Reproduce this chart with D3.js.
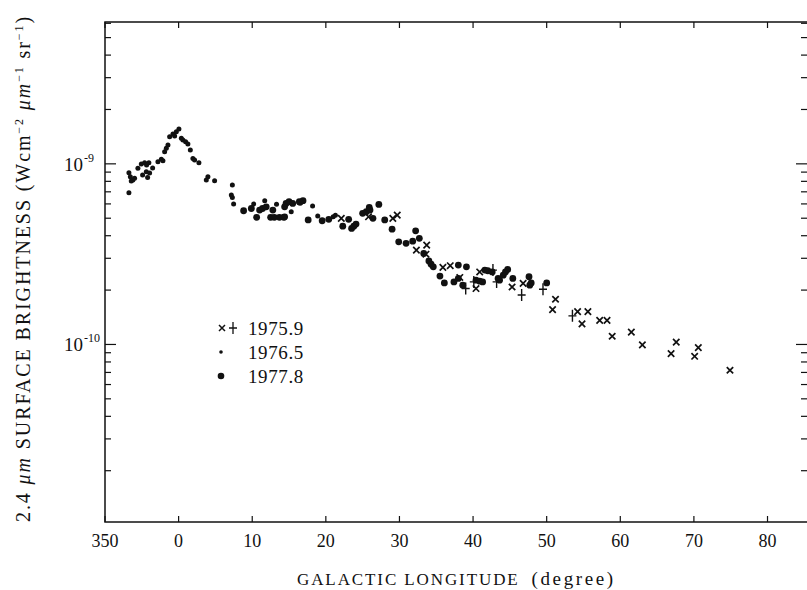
<!DOCTYPE html>
<html>
<head>
<meta charset="utf-8">
<script src="https://cdn.jsdelivr.net/npm/d3@7"></script>
<style>
  body { margin: 0; background: #fff; }
  svg { display: block; }
  text { font-family: "Liberation Serif", "Times New Roman", "DejaVu Serif", serif; fill: #111; }
</style>
</head>
<body>
<svg id="chart" width="807" height="590"></svg>
<script>
// values are [galactic longitude (deg, negative = 350..360), brightness in 1e-10 W cm-2 um-1 sr-1]
const UNIT = 1e-10;

// 1975.9, crosses
const cross1975 = [
  [22.1, 4.99], [25.8, 5.09], [29.1, 4.99], [29.7, 5.20], [32.3, 3.33], [33.7, 3.55],
  [33.6, 3.16], [35.9, 2.67], [36.9, 2.73], [38.2, 2.35], [40.4, 2.04], [40.9, 2.52],
  [45.3, 2.08], [46.8, 2.18], [51.2, 1.78], [50.8, 1.56], [54.2, 1.52], [55.6, 1.52],
  [54.8, 1.30], [57.2, 1.36], [58.2, 1.36], [58.9, 1.11], [61.5, 1.17], [63.0, 0.995],
  [67.6, 1.03], [66.9, 0.89], [70.6, 0.96], [70.1, 0.86], [74.9, 0.72]
];
// 1975.9, plus signs
const plus1975 = [
  [39.0, 2.04], [40.1, 2.22], [42.7, 2.58], [43.2, 2.22], [46.6, 1.88], [49.5, 2.02], [53.5, 1.44]
];
// 1976.5, small dots
const dots1976 = [
  [-6.75, 6.92], [-6.75, 8.93], [-6.56, 8.48], [-6.21, 8.13], [-6.43, 8.03], [-5.98, 8.31],
  [-5.53, 9.44], [-5.07, 9.97], [-4.62, 10.14], [-4.04, 10.14], [-4.89, 8.67], [-4.39, 9.04],
  [-3.94, 8.89], [-3.53, 9.48], [-4.21, 8.40], [-4.35, 9.85], [-2.81, 10.27], [-2.35, 10.59],
  [-2.13, 10.40], [-1.90, 11.67], [-1.67, 12.19], [-1.45, 12.71], [-1.22, 14.13], [-0.77, 14.63],
  [-0.54, 14.26], [-0.31, 15.06], [0.04, 15.59], [0.37, 13.84], [0.58, 13.55], [0.95, 13.25],
  [1.26, 12.88], [1.59, 11.93], [1.94, 10.72], [2.17, 10.50], [2.76, 10.14], [3.76, 8.13],
  [3.98, 8.48], [4.89, 8.06], [7.30, 7.63], [7.16, 6.72], [7.30, 6.52], [7.47, 5.99],
  [10.2, 5.99], [11.7, 6.25], [13.3, 5.97], [15.3, 5.43], [18.9, 5.14], [18.2, 5.84],
  [21.0, 5.09], [21.3, 5.20]
];
// 1977.8, large dots
const dots1977 = [
  [8.83, 5.50], [9.88, 5.66], [10.6, 5.06], [11.0, 5.55], [11.4, 5.66], [11.9, 5.78],
  [12.5, 5.06], [12.8, 5.55], [13.0, 5.06], [13.7, 5.06], [14.3, 5.06], [14.4, 5.78],
  [14.6, 6.04], [15.0, 6.17], [15.5, 6.04], [16.4, 6.17], [16.9, 6.25], [16.5, 6.12],
  [14.4, 5.09], [17.6, 4.89], [19.5, 4.84], [20.4, 4.93], [22.3, 4.52], [23.1, 4.93],
  [23.5, 4.39], [23.8, 4.52], [24.1, 4.64], [25.0, 5.32], [25.5, 5.43], [25.9, 5.74],
  [26.0, 5.55], [26.4, 4.99], [27.2, 5.96], [28.0, 4.89], [29.0, 4.35], [29.9, 3.70],
  [30.9, 3.63], [31.8, 3.73], [32.2, 4.26], [32.7, 3.87], [33.3, 3.19], [34.0, 2.90],
  [34.3, 2.78], [34.6, 2.69], [38.0, 2.75], [39.1, 2.69], [35.5, 2.39], [36.1, 2.19],
  [37.4, 2.22], [38.0, 2.32], [38.6, 2.13], [40.4, 2.27], [40.9, 2.24], [41.3, 2.22],
  [41.6, 2.58], [42.0, 2.56], [42.6, 2.52], [43.4, 2.32], [43.6, 2.27], [44.1, 2.42],
  [44.4, 2.52], [44.7, 2.60], [45.4, 2.32], [47.6, 2.37], [47.9, 2.19], [50.0, 2.19],
  [47.7, 2.13]
];

const xTicks = [-10, 0, 10, 20, 30, 40, 50, 60, 70, 80];
const xTickLabels = ["350", "0", "10", "20", "30", "40", "50", "60", "70", "80"];
const yMajor = [1e-10, 1e-9];
const yMajorExp = ["-10", "-9"];

const svg = d3.select("#chart");
const plotL = 105, plotR = 808, plotT = 22, plotB = 522;

const x = d3.scaleLinear().domain([-10, 85.5]).range([plotL, plotR]);
const y = d3.scaleLog().domain([1.04e-11, 6.1e-9]).range([plotB, plotT]);

// frame
svg.append("rect")
  .attr("x", plotL).attr("y", plotT).attr("width", plotR - plotL).attr("height", plotB - plotT)
  .attr("stroke", "#111").attr("stroke-width", 1.5).attr("fill", "none");

// x ticks (top and bottom, pointing inward)
const xt = svg.append("g").attr("stroke", "#111").attr("stroke-width", 1.2);
xTicks.forEach(function (t) {
  xt.append("line").attr("x1", x(t)).attr("x2", x(t)).attr("y1", plotB).attr("y2", plotB - 6);
  xt.append("line").attr("x1", x(t)).attr("x2", x(t)).attr("y1", plotT).attr("y2", plotT + 6);
});
svg.append("g").selectAll("text").data(xTicks).enter().append("text")
  .attr("x", d => x(d))
  .attr("y", 547)
  .attr("text-anchor", "middle")
  .style("font-size", "18px")
  .text((d, i) => xTickLabels[i]);

// y ticks: majors and 2..9 minors, both sides
const yTickVals = [];
for (let e = -12; e <= -8; e++) {
  for (let m = 1; m <= 9; m++) {
    const v = m * Math.pow(10, e);
    if (v >= y.domain()[0] && v <= y.domain()[1]) yTickVals.push({ v: v, major: m === 1 });
  }
}
const yt = svg.append("g").attr("stroke", "#111").attr("stroke-width", 1.2);
yTickVals.forEach(function (t) {
  const len = t.major ? 11 : 6;
  yt.append("line").attr("x1", plotL).attr("x2", plotL + len).attr("y1", y(t.v)).attr("y2", y(t.v));
  yt.append("line").attr("x1", 807).attr("x2", 807 - len).attr("y1", y(t.v)).attr("y2", y(t.v));
});
yMajor.forEach(function (v, i) {
  const lab = svg.append("text").attr("x", 64).attr("y", y(v) + 7).style("font-size", "19px");
  lab.append("tspan").text("10");
  lab.append("tspan").attr("dx", 1).attr("dy", -9).style("font-size", "12px").text(yMajorExp[i]);
});

// data marks
const pts = svg.append("g");
pts.selectAll(".d76").data(dots1976).enter().append("circle")
  .attr("cx", d => x(d[0])).attr("cy", d => y(d[1] * UNIT)).attr("r", 2.5).attr("fill", "#111");
pts.selectAll(".d77").data(dots1977).enter().append("circle")
  .attr("cx", d => x(d[0])).attr("cy", d => y(d[1] * UNIT)).attr("r", 3.4).attr("fill", "#111");

function crossPath(cx, cy, s) {
  return "M" + (cx - s) + "," + (cy - s) + "L" + (cx + s) + "," + (cy + s) +
    "M" + (cx - s) + "," + (cy + s) + "L" + (cx + s) + "," + (cy - s);
}
function plusPath(cx, cy, w, h) {
  return "M" + (cx - w) + "," + cy + "L" + (cx + w) + "," + cy +
    "M" + cx + "," + (cy - h) + "L" + cx + "," + (cy + h);
}
pts.selectAll(".cx").data(cross1975).enter().append("path")
  .attr("d", d => crossPath(x(d[0]), y(d[1] * UNIT), 3.2))
  .attr("stroke", "#111").attr("stroke-width", 1.7).attr("fill", "none");
pts.selectAll(".pl").data(plus1975).enter().append("path")
  .attr("d", d => plusPath(x(d[0]), y(d[1] * UNIT), 4, 6))
  .attr("stroke", "#111").attr("stroke-width", 1.4).attr("fill", "none");

// legend
const lg = svg.append("g");
lg.append("path").attr("d", crossPath(222, 328, 3)).attr("stroke", "#111").attr("stroke-width", 1.5).attr("fill", "none");
lg.append("path").attr("d", plusPath(233, 328, 4, 6)).attr("stroke", "#111").attr("stroke-width", 1.3).attr("fill", "none");
lg.append("circle").attr("cx", 221).attr("cy", 352).attr("r", 1.8).attr("fill", "#111");
lg.append("circle").attr("cx", 221).attr("cy", 376).attr("r", 3.3).attr("fill", "#111");
const legendLabels = ["1975.9", "1976.5", "1977.8"];
lg.selectAll("text").data(legendLabels).enter().append("text")
  .attr("x", 248).attr("y", (d, i) => 335 + i * 24)
  .style("font-size", "19px").style("letter-spacing", "0.6px")
  .text(d => d);

// axis titles
const xtl = svg.append("text")
  .attr("x", 297).attr("y", 585)
  .style("font-size", "17px").style("letter-spacing", "1.9px");
xtl.append("tspan").text("GALACTIC LONGITUDE");
xtl.append("tspan").attr("dx", 12).style("font-size", "19px").style("letter-spacing", "2.6px").text("(degree)");

const ytl = svg.append("text")
  .attr("transform", "translate(30,522) rotate(-90)")
  .style("font-size", "20px").style("letter-spacing", "1.9px");
ytl.append("tspan").text("2.4 ");
ytl.append("tspan").style("font-style", "italic").text("μm");
ytl.append("tspan").text(" SURFACE BRIGHTNESS (Wcm");
ytl.append("tspan").attr("dy", -7).style("font-size", "12px").text("−2");
ytl.append("tspan").attr("dy", 7).style("font-style", "italic").text(" μm");
ytl.append("tspan").attr("dy", -7).style("font-size", "12px").text("−1");
ytl.append("tspan").attr("dy", 7).text(" sr");
ytl.append("tspan").attr("dy", -7).style("font-size", "12px").text("−1");
ytl.append("tspan").attr("dy", 7).text(")");
</script>
</body>
</html>
